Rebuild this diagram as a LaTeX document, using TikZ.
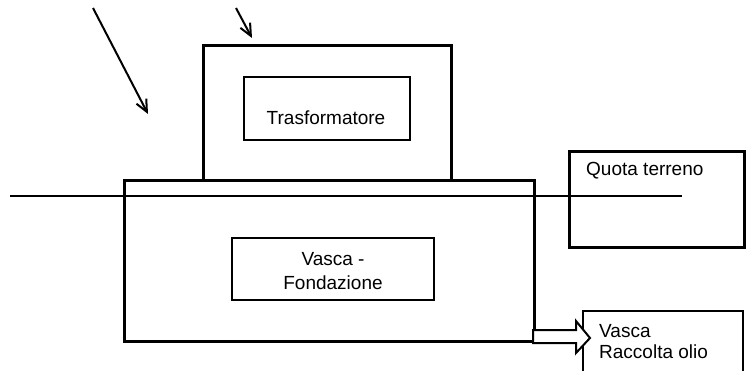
\documentclass[tikz,border=0pt]{standalone}
\usepackage{fontspec}
\setmainfont{Liberation Sans}
\usetikzlibrary{arrows.meta}

\begin{document}
\begin{tikzpicture}[x=1pt,y=-1pt,
  thickbox/.style={line width=3pt},
  thinbox/.style={line width=2pt},
  label/.style={font=\fontsize{19}{21}\selectfont,inner sep=0pt,align=left},
  ray/.style={line width=2pt,-{Straight Barb[length=12pt,width=11pt,line width=2pt]}}]

\useasboundingbox (0,0) rectangle (746,371);

% boxes
\draw[thickbox] (203,180) -- (203,46) -- (451,46) -- (451,180);
\draw[thinbox] (244,77) rectangle (410,140);
\draw[thickbox] (124,181) rectangle (534,341);
\draw[thinbox] (232,238) rectangle (434,300);
\draw[thickbox] (569,152) rectangle (744,247);
\draw[thinbox] (583,390) -- (583,311) -- (743,311) -- (743,390);

% ground level
\draw[line width=2.5pt] (10,196) -- (682,196);

% sun rays
\coordinate (r1a) at (93,8);
\coordinate (r1b) at (148,114);
\coordinate (r2a) at (236,8);
\coordinate (r2b) at (252,38);
\draw[ray] (r1a) -- (r1b);
\draw[ray] (r2a) -- (r2b);

% oil outlet
\draw[thinbox,fill=white] (533,330) -- (576,330) -- (576,321) -- (590,338) -- (576,353) -- (576,343) -- (533,343) -- cycle;

\node[label] (trafo) at (326,118) {Trasformatore};
\node[label,align=center,font=\fontsize{19}{24.5}\selectfont] (vasca) at (333,271) {Vasca -\\Fondazione};
\node[label,anchor=west] (quota) at (586,171) {Quota terreno};
\node[label,anchor=west] (olio) at (599,342) {Vasca\\Raccolta olio};

\end{tikzpicture}
\end{document}
